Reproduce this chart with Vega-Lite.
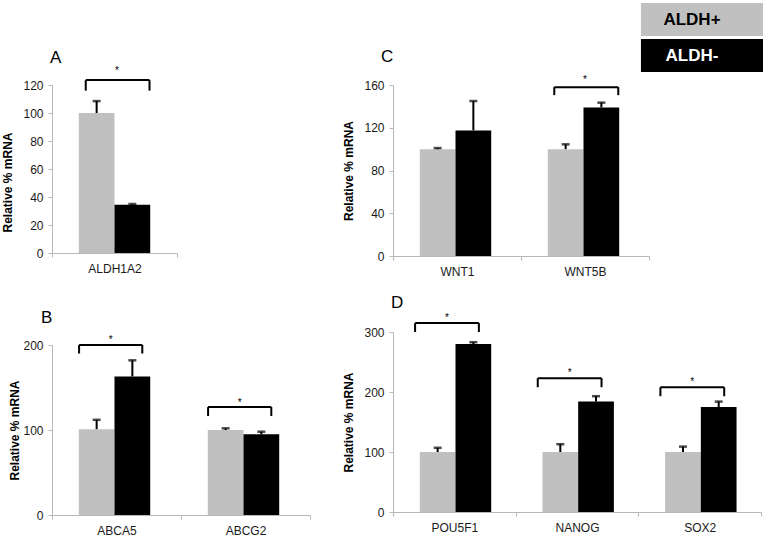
{
  "$schema": "https://vega.github.io/schema/vega-lite/v6.json",
  "autosize": {"type": "pad"},
  "padding": {"left": 1, "top": 3, "right": 0, "bottom": 0},
  "background": "white",
  "config": {
    "font": "Liberation Sans",
    "view": {"stroke": null},
    "axis": {"domainColor": "#b8b8b8", "tickColor": "#b8b8b8", "labelColor": "#1a1a1a", "labelFontSize": 12, "titleFontSize": 12, "titleFontWeight": "bold", "titleColor": "#000000", "grid": false, "tickSize": 4, "labelPadding": 5, "labelOverlap": false},
    "axisX": {"tickBand": "extent", "labelAngle": 0, "title": null, "labelPadding": 6},
    "title": {"fontSize": 17, "fontWeight": "normal", "anchor": "start", "color": "#000000", "frame": "group"}
  },
  "datasets": {
    "bars": [
      {"panel": "A", "gene": "ALDH1A2", "group": "ALDH+", "value": 100, "hi": 108.5},
      {"panel": "A", "gene": "ALDH1A2", "group": "ALDH-", "value": 34.5, "hi": 35},
      {"panel": "B", "gene": "ABCA5", "group": "ALDH+", "value": 101, "hi": 112},
      {"panel": "B", "gene": "ABCA5", "group": "ALDH-", "value": 163, "hi": 182},
      {"panel": "B", "gene": "ABCG2", "group": "ALDH+", "value": 100, "hi": 102},
      {"panel": "B", "gene": "ABCG2", "group": "ALDH-", "value": 95, "hi": 98},
      {"panel": "C", "gene": "WNT1", "group": "ALDH+", "value": 100, "hi": 101},
      {"panel": "C", "gene": "WNT1", "group": "ALDH-", "value": 117.5, "hi": 145},
      {"panel": "C", "gene": "WNT5B", "group": "ALDH+", "value": 100, "hi": 104.5},
      {"panel": "C", "gene": "WNT5B", "group": "ALDH-", "value": 139, "hi": 143.5},
      {"panel": "D", "gene": "POU5F1", "group": "ALDH+", "value": 100, "hi": 107},
      {"panel": "D", "gene": "POU5F1", "group": "ALDH-", "value": 280, "hi": 283},
      {"panel": "D", "gene": "NANOG", "group": "ALDH+", "value": 100, "hi": 113},
      {"panel": "D", "gene": "NANOG", "group": "ALDH-", "value": 184, "hi": 193},
      {"panel": "D", "gene": "SOX2", "group": "ALDH+", "value": 100, "hi": 109},
      {"panel": "D", "gene": "SOX2", "group": "ALDH-", "value": 175, "hi": 184}
    ],
    "brackets": [
      {"panel": "A", "gene": "ALDH1A2", "top": 123.5, "end": 116, "star": 130},
      {"panel": "B", "gene": "ABCA5", "top": 200, "end": 190, "star": 206},
      {"panel": "B", "gene": "ABCG2", "top": 127, "end": 116.5, "star": 132},
      {"panel": "C", "gene": "WNT5B", "top": 158, "end": 150.5, "star": 165},
      {"panel": "D", "gene": "POU5F1", "top": 315, "end": 300, "star": 323},
      {"panel": "D", "gene": "NANOG", "top": 223, "end": 208, "star": 232},
      {"panel": "D", "gene": "SOX2", "top": 208, "end": 193, "star": 217}
    ]
  },
  "resolve": {"scale": {"color": "shared"}, "legend": {"color": "shared"}},
  "spacing": 31,
  "hconcat": [
    {
      "spacing": 34,
      "resolve": {"scale": {"color": "shared"}, "legend": {"color": "shared"}},
      "vconcat": [
        {
          "title": {"text": "A", "dx": -2, "offset": -1},
          "width": 125, "height": 168,
          "layer": [
            {
              "data": {"name": "bars"}, "transform": [{"filter": "datum.panel === 'A'"}],
              "mark": {"type": "bar"},
              "encoding": {
                "x": {"field": "gene", "type": "nominal", "sort": null, "scale": {"paddingInner": 0, "paddingOuter": 0}, "axis": {"title": null}},
                "xOffset": {"field": "group", "type": "nominal", "sort": null, "scale": {"paddingInner": 0, "paddingOuter": 0.75}},
                "y": {"field": "value", "type": "quantitative", "scale": {"domain": [0, 120], "nice": false}, "axis": {"values": [0, 20, 40, 60, 80, 100, 120], "tickCount": 7, "labelOverlap": false, "title": "Relative % mRNA", "titlePadding": 8, "titleY": 97}},
                "color": {"field": "group", "type": "nominal", "scale": {"domain": ["ALDH+", "ALDH-"], "range": ["#c0c0c0", "#000000"]},
                  "legend": {"orient": "none", "legendX": 633.5, "legendY": -82, "title": null, "padding": 0, "symbolType": "M-3.7,-1H3.7V1H-3.7Z", "symbolSize": 1089, "symbolStrokeWidth": 0, "labelAlign": "center", "labelOffset": -26.5, "labelFontSize": 17, "labelFontWeight": "bold", "labelColor": {"expr": "datum.label === 'ALDH-' ? '#ffffff' : '#000000'"}, "rowPadding": 3}}
              }
            },
            {
              "data": {"name": "bars"}, "transform": [{"filter": "datum.panel === 'A'"}],
              "mark": {"type": "rule", "color": "#000000", "strokeWidth": 2},
              "encoding": {
                "x": {"field": "gene", "type": "nominal", "sort": null},
                "xOffset": {"field": "group", "type": "nominal", "sort": null},
                "y": {"field": "value", "type": "quantitative", "axis": {"values": [0, 20, 40, 60, 80, 100, 120], "tickCount": 7, "labelOverlap": false, "title": "Relative % mRNA", "titlePadding": 8, "titleY": 97}},
                "y2": {"field": "hi"}
              }
            },
            {
              "data": {"name": "bars"}, "transform": [{"filter": "datum.panel === 'A'"}],
              "mark": {"type": "tick", "color": "#000000", "size": 8, "thickness": 2.5, "orient": "horizontal"},
              "encoding": {
                "x": {"field": "gene", "type": "nominal", "sort": null},
                "xOffset": {"field": "group", "type": "nominal", "sort": null},
                "y": {"field": "hi", "type": "quantitative", "axis": {"values": [0, 20, 40, 60, 80, 100, 120], "tickCount": 7, "labelOverlap": false, "title": "Relative % mRNA", "titlePadding": 8, "titleY": 97}}
              }
            },
            {
              "data": {"name": "brackets"}, "transform": [{"filter": "datum.panel === 'A'"}],
              "mark": {"type": "rule", "color": "#000000", "strokeWidth": 2},
              "encoding": {
                "x": {"field": "gene", "type": "nominal", "sort": null, "bandPosition": 0.27},
                "x2": {"field": "gene", "bandPosition": 0.78},
                "y": {"field": "top", "type": "quantitative", "axis": {"values": [0, 20, 40, 60, 80, 100, 120], "tickCount": 7, "labelOverlap": false, "title": "Relative % mRNA", "titlePadding": 8, "titleY": 97}}
              }
            },
            {
              "data": {"name": "brackets"}, "transform": [{"filter": "datum.panel === 'A'"}],
              "mark": {"type": "rule", "color": "#000000", "strokeWidth": 2},
              "encoding": {
                "x": {"field": "gene", "type": "nominal", "sort": null, "bandPosition": 0.27},
                "y": {"field": "top", "type": "quantitative", "axis": {"values": [0, 20, 40, 60, 80, 100, 120], "tickCount": 7, "labelOverlap": false, "title": "Relative % mRNA", "titlePadding": 8, "titleY": 97}},
                "y2": {"field": "end"}
              }
            },
            {
              "data": {"name": "brackets"}, "transform": [{"filter": "datum.panel === 'A'"}],
              "mark": {"type": "rule", "color": "#000000", "strokeWidth": 2},
              "encoding": {
                "x": {"field": "gene", "type": "nominal", "sort": null, "bandPosition": 0.78},
                "y": {"field": "top", "type": "quantitative", "axis": {"values": [0, 20, 40, 60, 80, 100, 120], "tickCount": 7, "labelOverlap": false, "title": "Relative % mRNA", "titlePadding": 8, "titleY": 97}},
                "y2": {"field": "end"}
              }
            },
            {
              "data": {"name": "brackets"}, "transform": [{"filter": "datum.panel === 'A'"}],
              "mark": {"type": "text", "text": "*", "fontSize": 10, "fill": "#000000"},
              "encoding": {
                "x": {"field": "gene", "type": "nominal", "sort": null, "bandPosition": 0.52},
                "y": {"field": "star", "type": "quantitative", "axis": {"values": [0, 20, 40, 60, 80, 100, 120], "tickCount": 7, "labelOverlap": false, "title": "Relative % mRNA", "titlePadding": 8, "titleY": 97}}
              }
            }
          ]
        },
        {
          "title": {"text": "B", "dx": -11, "offset": 8},
          "width": 258, "height": 170,
          "layer": [
            {
              "data": {"name": "bars"}, "transform": [{"filter": "datum.panel === 'B'"}],
              "mark": {"type": "bar"},
              "encoding": {
                "x": {"field": "gene", "type": "nominal", "sort": null, "scale": {"paddingInner": 0, "paddingOuter": 0}, "axis": {"title": null}},
                "xOffset": {"field": "group", "type": "nominal", "sort": null, "scale": {"paddingInner": 0, "paddingOuter": 0.75}},
                "y": {"field": "value", "type": "quantitative", "scale": {"domain": [0, 200], "nice": false}, "axis": {"values": [0, 100, 200], "title": "Relative % mRNA", "titlePadding": 1}},
                "color": {"field": "group", "type": "nominal"}
              }
            },
            {
              "data": {"name": "bars"}, "transform": [{"filter": "datum.panel === 'B'"}],
              "mark": {"type": "rule", "color": "#000000", "strokeWidth": 2},
              "encoding": {
                "x": {"field": "gene", "type": "nominal", "sort": null},
                "xOffset": {"field": "group", "type": "nominal", "sort": null},
                "y": {"field": "value", "type": "quantitative"},
                "y2": {"field": "hi"}
              }
            },
            {
              "data": {"name": "bars"}, "transform": [{"filter": "datum.panel === 'B'"}],
              "mark": {"type": "tick", "color": "#000000", "size": 8, "thickness": 2.5, "orient": "horizontal"},
              "encoding": {
                "x": {"field": "gene", "type": "nominal", "sort": null},
                "xOffset": {"field": "group", "type": "nominal", "sort": null},
                "y": {"field": "hi", "type": "quantitative"}
              }
            },
            {
              "data": {"name": "brackets"}, "transform": [{"filter": "datum.panel === 'B'"}],
              "mark": {"type": "rule", "color": "#000000", "strokeWidth": 2},
              "encoding": {
                "x": {"field": "gene", "type": "nominal", "sort": null, "bandPosition": 0.21},
                "x2": {"field": "gene", "bandPosition": 0.7},
                "y": {"field": "top", "type": "quantitative"}
              }
            },
            {
              "data": {"name": "brackets"}, "transform": [{"filter": "datum.panel === 'B'"}],
              "mark": {"type": "rule", "color": "#000000", "strokeWidth": 2},
              "encoding": {
                "x": {"field": "gene", "type": "nominal", "sort": null, "bandPosition": 0.21},
                "y": {"field": "top", "type": "quantitative"},
                "y2": {"field": "end"}
              }
            },
            {
              "data": {"name": "brackets"}, "transform": [{"filter": "datum.panel === 'B'"}],
              "mark": {"type": "rule", "color": "#000000", "strokeWidth": 2},
              "encoding": {
                "x": {"field": "gene", "type": "nominal", "sort": null, "bandPosition": 0.7},
                "y": {"field": "top", "type": "quantitative"},
                "y2": {"field": "end"}
              }
            },
            {
              "data": {"name": "brackets"}, "transform": [{"filter": "datum.panel === 'B'"}],
              "mark": {"type": "text", "text": "*", "fontSize": 10, "fill": "#000000"},
              "encoding": {
                "x": {"field": "gene", "type": "nominal", "sort": null, "bandPosition": 0.455},
                "y": {"field": "star", "type": "quantitative"}
              }
            }
          ]
        }
      ]
    },
    {
      "spacing": 17,
      "resolve": {"scale": {"color": "shared"}, "legend": {"color": "shared"}},
      "vconcat": [
        {
          "title": {"text": "C", "dx": -12, "offset": 9},
          "width": 256, "height": 171,
          "layer": [
            {
              "data": {"name": "bars"}, "transform": [{"filter": "datum.panel === 'C'"}],
              "mark": {"type": "bar"},
              "encoding": {
                "x": {"field": "gene", "type": "nominal", "sort": null, "scale": {"paddingInner": 0, "paddingOuter": 0}, "axis": {"title": null}},
                "xOffset": {"field": "group", "type": "nominal", "sort": null, "scale": {"paddingInner": 0, "paddingOuter": 0.75}},
                "y": {"field": "value", "type": "quantitative", "scale": {"domain": [0, 160], "nice": false}, "axis": {"values": [0, 40, 80, 120, 160], "title": "Relative % mRNA", "titlePadding": 8}},
                "color": {"field": "group", "type": "nominal"}
              }
            },
            {
              "data": {"name": "bars"}, "transform": [{"filter": "datum.panel === 'C'"}],
              "mark": {"type": "rule", "color": "#000000", "strokeWidth": 2},
              "encoding": {
                "x": {"field": "gene", "type": "nominal", "sort": null},
                "xOffset": {"field": "group", "type": "nominal", "sort": null},
                "y": {"field": "value", "type": "quantitative"},
                "y2": {"field": "hi"}
              }
            },
            {
              "data": {"name": "bars"}, "transform": [{"filter": "datum.panel === 'C'"}],
              "mark": {"type": "tick", "color": "#000000", "size": 8, "thickness": 2.5, "orient": "horizontal"},
              "encoding": {
                "x": {"field": "gene", "type": "nominal", "sort": null},
                "xOffset": {"field": "group", "type": "nominal", "sort": null},
                "y": {"field": "hi", "type": "quantitative"}
              }
            },
            {
              "data": {"name": "brackets"}, "transform": [{"filter": "datum.panel === 'C'"}],
              "mark": {"type": "rule", "color": "#000000", "strokeWidth": 2},
              "encoding": {
                "x": {"field": "gene", "type": "nominal", "sort": null, "bandPosition": 0.26},
                "x2": {"field": "gene", "bandPosition": 0.76},
                "y": {"field": "top", "type": "quantitative"}
              }
            },
            {
              "data": {"name": "brackets"}, "transform": [{"filter": "datum.panel === 'C'"}],
              "mark": {"type": "rule", "color": "#000000", "strokeWidth": 2},
              "encoding": {
                "x": {"field": "gene", "type": "nominal", "sort": null, "bandPosition": 0.26},
                "y": {"field": "top", "type": "quantitative"},
                "y2": {"field": "end"}
              }
            },
            {
              "data": {"name": "brackets"}, "transform": [{"filter": "datum.panel === 'C'"}],
              "mark": {"type": "rule", "color": "#000000", "strokeWidth": 2},
              "encoding": {
                "x": {"field": "gene", "type": "nominal", "sort": null, "bandPosition": 0.76},
                "y": {"field": "top", "type": "quantitative"},
                "y2": {"field": "end"}
              }
            },
            {
              "data": {"name": "brackets"}, "transform": [{"filter": "datum.panel === 'C'"}],
              "mark": {"type": "text", "text": "*", "fontSize": 10, "fill": "#000000"},
              "encoding": {
                "x": {"field": "gene", "type": "nominal", "sort": null, "bandPosition": 0.5},
                "y": {"field": "star", "type": "quantitative"}
              }
            }
          ]
        },
        {
          "title": {"text": "D", "dx": -2, "offset": 1},
          "width": 368, "height": 180,
          "layer": [
            {
              "data": {"name": "bars"}, "transform": [{"filter": "datum.panel === 'D'"}],
              "mark": {"type": "bar"},
              "encoding": {
                "x": {"field": "gene", "type": "nominal", "sort": null, "scale": {"paddingInner": 0, "paddingOuter": 0}, "axis": {"title": null}},
                "xOffset": {"field": "group", "type": "nominal", "sort": null, "scale": {"paddingInner": 0, "paddingOuter": 0.75}},
                "y": {"field": "value", "type": "quantitative", "scale": {"domain": [0, 300], "nice": false}, "axis": {"values": [0, 100, 200, 300], "title": "Relative % mRNA", "titlePadding": 8}},
                "color": {"field": "group", "type": "nominal"}
              }
            },
            {
              "data": {"name": "bars"}, "transform": [{"filter": "datum.panel === 'D'"}],
              "mark": {"type": "rule", "color": "#000000", "strokeWidth": 2},
              "encoding": {
                "x": {"field": "gene", "type": "nominal", "sort": null},
                "xOffset": {"field": "group", "type": "nominal", "sort": null},
                "y": {"field": "value", "type": "quantitative"},
                "y2": {"field": "hi"}
              }
            },
            {
              "data": {"name": "bars"}, "transform": [{"filter": "datum.panel === 'D'"}],
              "mark": {"type": "tick", "color": "#000000", "size": 8, "thickness": 2.5, "orient": "horizontal"},
              "encoding": {
                "x": {"field": "gene", "type": "nominal", "sort": null},
                "xOffset": {"field": "group", "type": "nominal", "sort": null},
                "y": {"field": "hi", "type": "quantitative"}
              }
            },
            {
              "data": {"name": "brackets"}, "transform": [{"filter": "datum.panel === 'D'"}],
              "mark": {"type": "rule", "color": "#000000", "strokeWidth": 2},
              "encoding": {
                "x": {"field": "gene", "type": "nominal", "sort": null, "bandPosition": 0.18},
                "x2": {"field": "gene", "bandPosition": 0.7},
                "y": {"field": "top", "type": "quantitative"}
              }
            },
            {
              "data": {"name": "brackets"}, "transform": [{"filter": "datum.panel === 'D'"}],
              "mark": {"type": "rule", "color": "#000000", "strokeWidth": 2},
              "encoding": {
                "x": {"field": "gene", "type": "nominal", "sort": null, "bandPosition": 0.18},
                "y": {"field": "top", "type": "quantitative"},
                "y2": {"field": "end"}
              }
            },
            {
              "data": {"name": "brackets"}, "transform": [{"filter": "datum.panel === 'D'"}],
              "mark": {"type": "rule", "color": "#000000", "strokeWidth": 2},
              "encoding": {
                "x": {"field": "gene", "type": "nominal", "sort": null, "bandPosition": 0.7},
                "y": {"field": "top", "type": "quantitative"},
                "y2": {"field": "end"}
              }
            },
            {
              "data": {"name": "brackets"}, "transform": [{"filter": "datum.panel === 'D'"}],
              "mark": {"type": "text", "text": "*", "fontSize": 10, "fill": "#000000"},
              "encoding": {
                "x": {"field": "gene", "type": "nominal", "sort": null, "bandPosition": 0.44},
                "y": {"field": "star", "type": "quantitative"}
              }
            }
          ]
        }
      ]
    }
  ]
}
